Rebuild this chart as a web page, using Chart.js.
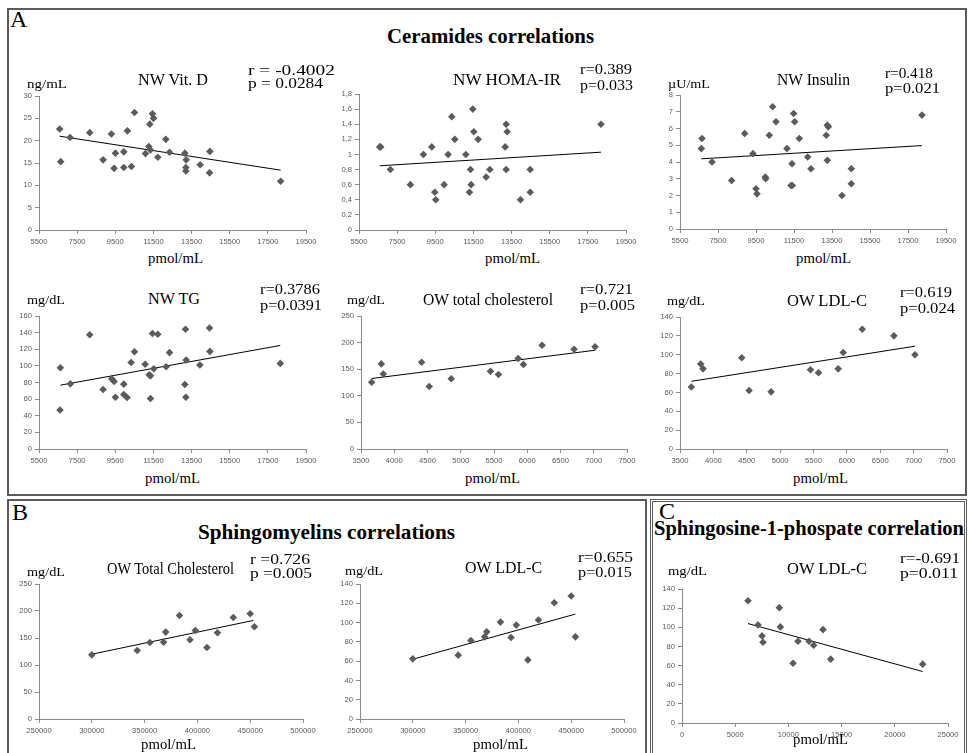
<!DOCTYPE html>
<html><head><meta charset="utf-8">
<script src="https://cdn.jsdelivr.net/npm/chart.js@4"></script>
<style>
html,body{margin:0;padding:0;background:#fff;width:969px;height:753px;overflow:hidden;position:relative;font-family:"Liberation Serif","Times New Roman",serif;}
.box{position:absolute;box-sizing:border-box;}
.t{position:absolute;white-space:nowrap;color:#000;line-height:1;transform-origin:left center;}
canvas{position:absolute;}
</style></head><body>
<script>
// ---------------- DATA ----------------
const xTicksNW  = [5500, 7500, 9500, 11500, 13500, 15500, 17500, 19500];
const xTicksOW  = [3500, 4000, 4500, 5000, 5500, 6000, 6500, 7000, 7500];
const xTicksSM  = [250000, 300000, 350000, 400000, 450000, 500000];
const xTicksS1P = [0, 5000, 10000, 15000, 20000, 25000];
const yTicksVitD = [0, 5, 10, 15, 20, 25, 30];
const yTicksHoma = [0, 0.2, 0.4, 0.6, 0.8, 1, 1.2, 1.4, 1.6, 1.8];
const yTicksIns  = [0, 1, 2, 3, 4, 5, 6, 7, 8];
const yTicksTG   = [0, 20, 40, 60, 80, 100, 120, 140, 160];
const yTicksChol = [0, 50, 100, 150, 200, 250];
const yTicksLDL  = [0, 20, 40, 60, 80, 100, 120, 140];

const vitD_x = [6585,6637,7127,8160,8860,9297,9437,9507,9945,9945,10137,10347,10505,11082,11257,11310,11345,11450,11502,11730,12150,12342,13147,13217,13200,13200,13952,14460,14442,18170];
const vitD_y = [22.6,15.3,20.7,21.8,15.7,21.5,13.8,17.2,17.5,14.0,22.2,14.2,26.3,17.1,18.7,23.7,17.9,26.0,25.0,16.3,20.3,17.4,17.2,15.7,14.0,13.2,14.6,17.6,12.8,10.9];
const vitD_trendX = [6585, 18170];
const vitD_trendY = [21.0, 13.4];

const homa_x = [6585,6637,7145,8195,8877,9315,9472,9525,9962,10172,10365,10522,11100,11292,11345,11380,11467,11520,11747,12167,12360,13165,13217,13270,13217,13970,14477,14477,18187];
const homa_y = [1.1,1.1,0.8,0.6,1.0,1.1,0.5,0.4,0.6,1.0,1.5,1.2,1.0,0.5,0.8,0.6,1.6,1.3,1.2,0.7,0.8,1.1,1.4,1.3,0.8,0.4,0.8,0.5,1.4];
const homa_trendX = [6585, 18187];
const homa_trendY = [0.85, 1.03];

const ins_x = [6623,6658,7184,8219,8903,9341,9499,9552,9990,10008,10201,10376,10551,11130,11341,11411,11394,11481,11534,11780,12219,12394,13201,13254,13306,13254,14025,14516,14516,18234];
const ins_y = [4.8,5.4,4.0,2.9,5.7,4.5,2.4,2.1,3.1,3.0,5.6,7.3,6.4,4.8,2.6,2.6,3.9,6.9,6.4,5.4,4.3,3.6,5.6,6.2,6.1,4.1,2.0,3.6,2.7,6.8];
const ins_trendX = [6623, 18234];
const ins_trendY = [4.19, 4.98];

const tg_x = [6620,6602,7145,8160,8860,9315,9437,9507,9945,9945,10120,10330,10505,11065,11275,11345,11345,11450,11520,11730,12167,12342,13182,13217,13147,13200,13935,14442,14460,18152];
const tg_y = [97.7,47,78.4,137.5,71.6,84.4,81.2,62.3,78,65.5,61.9,104,117,102,89.2,88,60.7,139,96.5,138,98.9,116,144,107,77.6,62.3,101,145.5,117.4,103];
const tg_trendX = [6620, 18152];
const tg_trendY = [76.8, 124.6];

const owChol_x = [3660,3805,3835,4411,4526,4857,5447,5567,5863,5943,6223,6704,7019];
const owChol_y = [125.6,160,141,163,117.5,132,146,140,170,159,195,187.5,192];
const owChol_trendX = [3660, 7019];
const owChol_trendY = [132.5, 185.6];

const owLdl_x = [3670,3810,3845,4425,4535,4865,5455,5575,5870,5945,6230,6705,7020];
const owLdl_y = [65.8,90.2,85,96.8,62,60.6,84,80.8,85,102.4,127,120,100];
const owLdl_trendX = [3670, 7020];
const owLdl_trendY = [71.8, 109];

const sm_x = [300000,343000,355000,368000,370000,383000,393000,398000,409000,419000,434000,450000,454000];
const smChol_y = [118.8,126.9,141.7,142.3,160.9,191.8,146.7,164,132.4,159.7,188,195,170.8];
const smChol_trendX = [300000, 453000];
const smChol_trendY = [120, 182.5];
const smLdl_y = [62.4,66.2,81.4,85.2,90.4,100.5,84.5,97.4,61.3,102.6,120.6,127.5,85.2];
const smLdl_trendX = [300000, 454000];
const smLdl_trendY = [62, 108.8];

const s1p_x = [6203,7143,7519,7613,9148,9242,10433,10903,11937,12375,13252,13973,22620];
const s1p_y = [127.8,102.5,91,84.4,120.5,100.4,62.5,85.4,85.4,81.3,97.6,66.7,61.5];
const s1p_trendX = [6203, 22620];
const s1p_trendY = [103.9, 53.8];

// ---------------- LAYOUT ----------------
function addBox(l, t, w, h, style) {
  const d = document.createElement('div');
  d.className = 'box';
  Object.assign(d.style, {left: l + 'px', top: t + 'px', width: w + 'px', height: h + 'px'}, style);
  document.body.appendChild(d);
}
addBox(7, 8, 960, 488, {border: '2px solid #5a5a5a'});
addBox(7, 499, 640, 270, {border: '2px solid #5a5a5a'});
addBox(650, 499, 317, 270, {border: '3px double #5a5a5a'});

function addText(txt, x, y, size, w, o) {
  o = o || {};
  const d = document.createElement('div');
  d.className = 't';
  d.textContent = txt;
  d.style.fontSize = size + 'px';
  if (o.bold) d.style.fontWeight = 'bold';
  document.body.appendChild(d);
  const nat = d.getBoundingClientRect().width;
  const tw = w || nat;
  const left = o.center ? x - tw / 2 : x;
  d.style.left = left + 'px';
  d.style.top = (y - size / 2) + 'px';
  if (w) d.style.transform = 'scaleX(' + (w / nat) + ')';
}

function makeChart(rect, xs, ys, tx, ty, xt, yt, fmtY) {
  const [L, T, R, B] = rect;
  const padTop = 8, padRight = 18, yW = 30, xH = 18, padBottom = 2;
  const c = document.createElement('canvas');
  const W = R - L + yW + padRight, H = B - T + padTop + xH + padBottom;
  c.width = W; c.height = H;
  c.style.left = (L - yW) + 'px';
  c.style.top = (T - padTop) + 'px';
  c.style.width = W + 'px'; c.style.height = H + 'px';
  document.body.appendChild(c);
  const tickFont = {family: '"Liberation Sans", Arial, sans-serif', size: 7.6};
  const axisCol = '#8a8a8a';
  new Chart(c, {
    type: 'scatter',
    data: {datasets: [
      {data: xs.map((x, i) => ({x: x, y: ys[i]})), pointStyle: 'rectRot', pointRadius: 3.8,
       backgroundColor: '#5b5b5b', borderColor: '#5b5b5b', borderWidth: 0, clip: false},
      {data: tx.map((x, i) => ({x: x, y: ty[i]})), showLine: true, borderColor: '#000', borderWidth: 1,
       pointRadius: 0, fill: false, clip: false}
    ]},
    options: {
      responsive: false, animation: false, devicePixelRatio: 1,
      layout: {padding: {top: padTop, right: padRight, left: 0, bottom: padBottom}},
      plugins: {legend: {display: false}, tooltip: {enabled: false}},
      scales: {
        x: {type: 'linear', position: 'bottom', min: xt[0], max: xt[xt.length - 1],
            afterBuildTicks: s => { s.ticks = xt.map(v => ({value: v})); },
            afterFit: s => { s.height = xH; },
            ticks: {font: tickFont, color: '#595959', padding: 3, maxRotation: 0, autoSkip: false,
                    callback: v => String(v)},
            grid: {display: true, drawOnChartArea: false, drawTicks: true, tickLength: 4, color: axisCol},
            border: {display: true, color: axisCol, width: 1}},
        y: {type: 'linear', position: 'left', min: yt[0], max: yt[yt.length - 1],
            afterBuildTicks: s => { s.ticks = yt.map(v => ({value: v})); },
            afterFit: s => { s.width = yW; },
            ticks: {font: tickFont, color: '#595959', padding: 3, autoSkip: false,
                    callback: fmtY || (v => String(v))},
            grid: {display: true, drawOnChartArea: false, drawTicks: true, tickLength: 4, color: axisCol},
            border: {display: true, color: axisCol, width: 1}}
      }
    }
  });
}

const commaFmt = v => String(v).replace('.', ',');

makeChart([39, 96, 306, 230], vitD_x, vitD_y, vitD_trendX, vitD_trendY, xTicksNW, yTicksVitD);
makeChart([359, 94, 626, 230], homa_x, homa_y, homa_trendX, homa_trendY, xTicksNW, yTicksHoma, commaFmt);
makeChart([680, 95, 946, 229], ins_x, ins_y, ins_trendX, ins_trendY, xTicksNW, yTicksIns);
makeChart([39, 316, 306, 449], tg_x, tg_y, tg_trendX, tg_trendY, xTicksNW, yTicksTG);
makeChart([361, 316, 627, 449], owChol_x, owChol_y, owChol_trendX, owChol_trendY, xTicksOW, yTicksChol);
makeChart([680, 317, 947, 449], owLdl_x, owLdl_y, owLdl_trendX, owLdl_trendY, xTicksOW, yTicksLDL);
makeChart([39, 584, 303, 719], sm_x, smChol_y, smChol_trendX, smChol_trendY, xTicksSM, yTicksChol);
makeChart([360, 584, 624, 719], sm_x, smLdl_y, smLdl_trendX, smLdl_trendY, xTicksSM, yTicksLDL);
makeChart([682, 589, 948, 723], s1p_x, s1p_y, s1p_trendX, s1p_trendY, xTicksS1P, yTicksLDL);

// panel letters and section titles
addText('A', 10, 19, 24);
addText('B', 12, 512, 24);
addText('C', 659, 511, 24);
addText('Ceramides correlations', 490, 36, 20, 207, {bold: true, center: true});
addText('Sphingomyelins correlations', 326, 532, 20, 257, {bold: true, center: true});
addText('Sphingosine-1-phospate correlation', 809, 528, 20, 310, {bold: true, center: true});

// chart titles
addText('NW Vit. D', 173, 79, 17, 70, {center: true});
addText('NW HOMA-IR', 507, 79, 17, 108, {center: true});
addText('NW Insulin', 813, 79, 17, 73, {center: true});
addText('NW TG', 174, 298, 17, 52, {center: true});
addText('OW total cholesterol', 488, 299, 17, 130, {center: true});
addText('OW LDL-C', 827, 300, 17, 80, {center: true});
addText('OW Total Cholesterol', 170, 568, 17, 127, {center: true});
addText('OW LDL-C', 503, 567, 17, 77, {center: true});
addText('OW LDL-C', 827, 568, 17, 80, {center: true});

// units
addText('ng/mL', 27, 83, 13, 40);
addText('\u00b5U/mL', 668, 83, 13, 42);
addText('mg/dL', 27, 299, 13, 38);
addText('mg/dL', 347, 299, 13, 38);
addText('mg/dL', 667, 300, 13, 38);
addText('mg/dL', 27, 571, 13, 38);
addText('mg/dL', 345, 570, 13, 38);
addText('mg/dL', 668, 570, 13, 39);

// r / p
addText('r = -0.4002', 248, 70, 15, 87);
addText('p = 0.0284', 248, 83, 15, 75);
addText('r=0.389', 580, 69, 15, 52);
addText('p=0.033', 580, 85, 15, 53);
addText('r=0.418', 885, 73, 15, 48);
addText('p=0.021', 885, 88, 15, 55);
addText('r=0.3786', 260, 289, 15, 60);
addText('p=0.0391', 260, 305, 15, 62);
addText('r=0.721', 580, 289, 15, 53);
addText('p=0.005', 580, 305, 15, 55);
addText('r=0.619', 900, 292, 15, 52);
addText('p=0.024', 900, 308, 15, 55);
addText('r =0.726', 250, 559, 15, 60);
addText('p =0.005', 250, 573, 15, 62);
addText('r=0.655', 578, 557, 15, 55);
addText('p=0.015', 578, 572, 15, 54);
addText('r=-0.691', 900, 558, 15, 60);
addText('p=0.011', 900, 573, 15, 58);

// x-axis titles
[[175, 259], [512, 259], [823, 259], [172, 479], [492, 479], [820, 479], [168, 745], [500, 745], [820, 740]]
  .forEach(p => addText('pmol/mL', p[0], p[1], 14, 55, {center: true}));
</script>
</body></html>
